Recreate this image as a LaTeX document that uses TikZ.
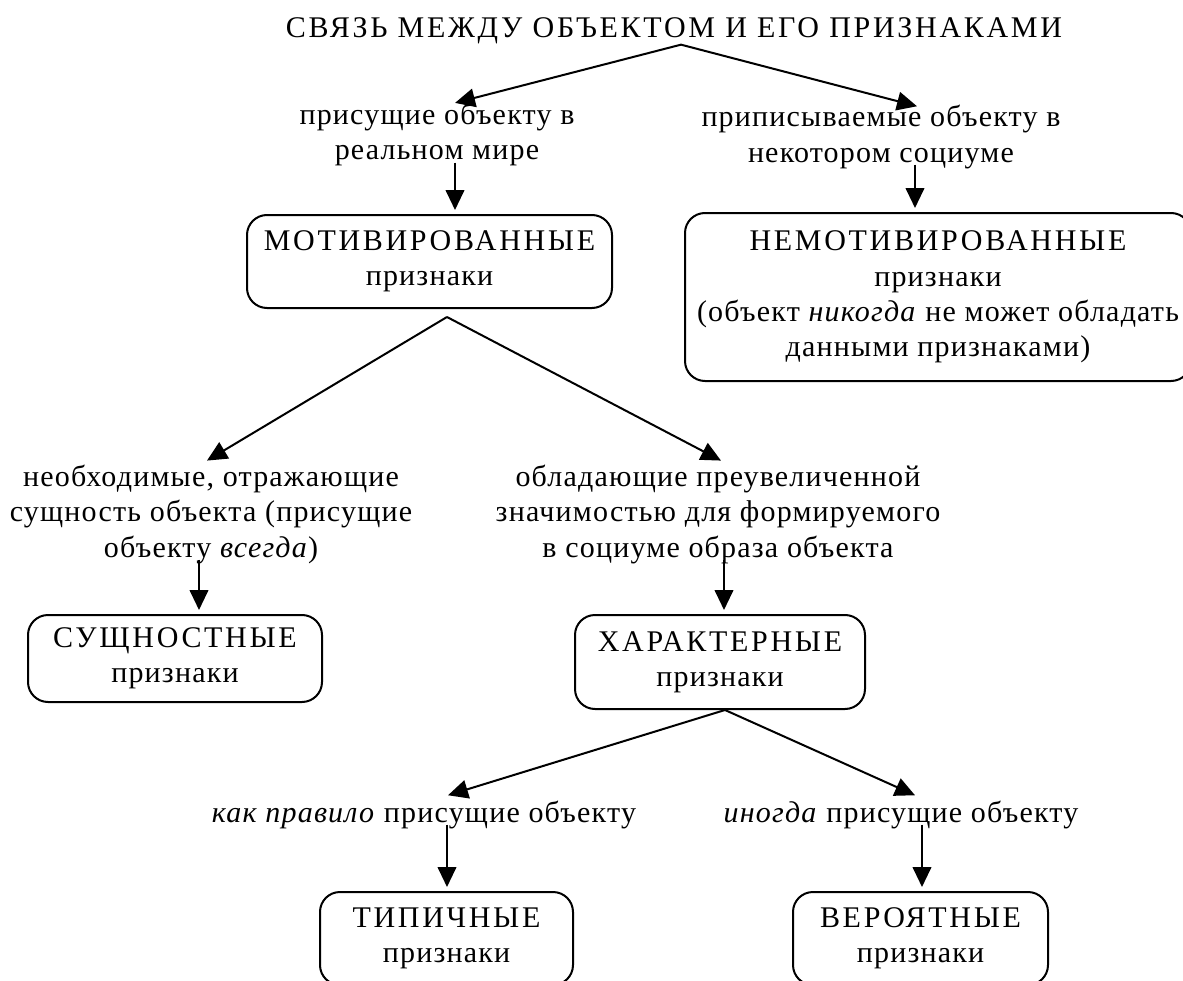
\documentclass[tikz,border=0pt]{standalone}
\usepackage{fontspec}
\setmainfont{Liberation Serif}[LetterSpace=4]
\newfontfamily\capsfont{Liberation Serif}[LetterSpace=9]
\usetikzlibrary{arrows.meta}
\begin{document}
\begin{tikzpicture}[x=0.75pt,y=-0.75pt,
  every node/.style={font=\fontsize{22.5}{26.5}\selectfont, inner sep=0pt},
  lbl/.style={align=center, anchor=base},
  box/.style={draw, line width=1.5pt, rounded corners=15pt, align=center},
  arr/.style={line width=1.5pt, -{Triangle[length=15pt,width=14pt]}},
]
\useasboundingbox (0,0) rectangle (1183,981);
\clip (0,0) rectangle (1183,981);

% title
\node[lbl] (title) at (674,38) {\capsfont СВЯЗЬ МЕЖДУ ОБЪЕКТОМ И ЕГО ПРИЗНАКАМИ};

% level 1 labels (anchor base = baseline of the last line)
\node[lbl] (l1) at (437,160) {присущие объекту в\\реальном мире};
\node[lbl] (l2) at (881,162) {приписываемые объекту в\\некотором социуме};

% level 1 boxes
\node[box, minimum width=273.75pt, minimum height=69.75pt] (mot) at (429.5,261.5)
  {{\capsfont МОТИВИРОВАННЫЕ}\\признаки};
\node[box, minimum width=379.5pt, minimum height=126pt] (nemot) at (938,297)
  {{\capsfont НЕМОТИВИРОВАННЫЕ}\\признаки\\(объект \textit{никогда} не может обладать\\данными признаками)};

% level 2 labels
\node[lbl] (l3) at (211,557) {необходимые, отражающие\\сущность объекта (присущие\\объекту \textit{всегда})};
\node[lbl] (l4) at (718,557) {обладающие преувеличенной\\значимостью для формируемого\\в социуме образа объекта};

% level 2 boxes
\node[box, minimum width=220.5pt, minimum height=65.25pt] (sush) at (175,658.5)
  {{\capsfont СУЩНОСТНЫЕ}\\признаки};
\node[box, minimum width=217.5pt, minimum height=70.5pt] (har) at (720,662)
  {{\capsfont ХАРАКТЕРНЫЕ}\\признаки};

% level 3 labels
\node[lbl] (l5) at (424,822) {\textit{как правило} присущие объекту};
\node[lbl] (l6) at (901,822) {\textit{иногда} присущие объекту};

% level 3 boxes
\node[box, minimum width=189.75pt, minimum height=69.75pt] (tip) at (446.5,938.5)
  {{\capsfont ТИПИЧНЫЕ}\\признаки};
\node[box, minimum width=191.25pt, minimum height=69.75pt] (ver) at (920.5,938.5)
  {{\capsfont ВЕРОЯТНЫЕ}\\признаки};

% connectors
\draw[arr] ([xshift=5.25pt]title.south) -- ([xshift=13.5pt]l1.north);
\draw[arr] ([xshift=5.25pt]title.south) -- ([xshift=27pt,yshift=-1pt]l2.north);
\draw[arr] ([xshift=13.5pt,yshift=3pt]l1.south) -- ([xshift=13.5pt,yshift=3pt]l1.south |- mot.north);
\draw[arr] ([xshift=25.5pt,yshift=3pt]l2.south) -- ([xshift=25.5pt,yshift=3pt]l2.south |- nemot.north);

\draw[arr] ([xshift=13.1pt,yshift=-6pt]mot.south) -- ([xshift=-3pt,yshift=3pt]l3.north);
\draw[arr] ([xshift=13.1pt,yshift=-6pt]mot.south) -- ([xshift=2.25pt,yshift=3pt]l4.north);
\draw[arr] ([xshift=-9pt,yshift=3pt]l3.south) -- ([xshift=-9pt,yshift=3pt]l3.south |- sush.north);
\draw[arr] ([xshift=4.5pt,yshift=3pt]l4.south) -- ([xshift=4.5pt,yshift=3pt]l4.south |- har.north);

\draw[arr] ([xshift=3.75pt]har.south) -- ([xshift=18pt,yshift=3.75pt]l5.north);
\draw[arr] ([xshift=3.75pt]har.south) -- ([xshift=10.5pt,yshift=3.75pt]l6.north);
\draw[arr] ([xshift=17.25pt,yshift=3pt]l5.south) -- ([xshift=17.25pt,yshift=3pt]l5.south |- tip.north);
\draw[arr] ([xshift=15.75pt,yshift=3pt]l6.south) -- ([xshift=15.75pt,yshift=3pt]l6.south |- ver.north);
\end{tikzpicture}
\end{document}
